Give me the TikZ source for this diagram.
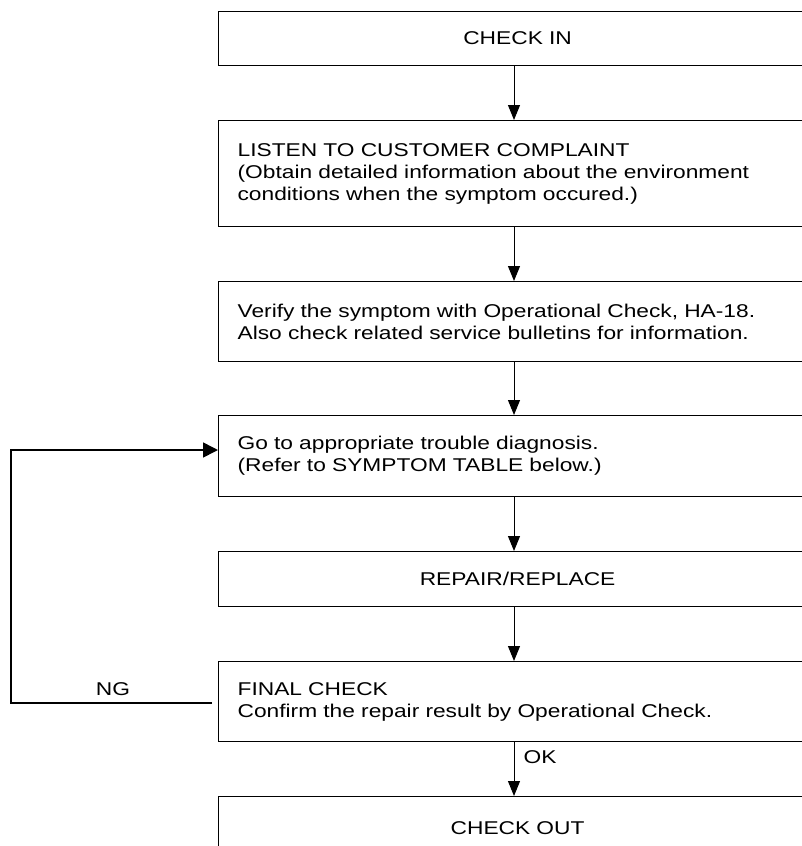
\documentclass[tikz,border=0pt]{standalone}
\usepackage{fontspec}
\setmainfont{Liberation Sans}[FakeStretch=1.23]
\usetikzlibrary{arrows.meta}

\begin{document}
\begin{tikzpicture}[x=1pt,y=-1pt,
  box/.style={draw,line width=1.2pt,rectangle,anchor=north west,inner xsep=19pt,
    text width=560pt,font=\fontsize{18.5}{22}\selectfont},
  lft/.style={box,align=left},
  ctr/.style={box,align=center},
  lbl/.style={font=\fontsize{18.5}{22}\selectfont},
  arr/.style={line width=1pt,-{Triangle[length=15pt,width=12pt]}}]
\useasboundingbox (0,0) rectangle (801,846);
\node[ctr,minimum height=54pt] (in) at (218,11) {CHECK IN};
\node[lft,minimum height=106pt] (listen) at (218,120) {LISTEN TO CUSTOMER COMPLAINT\\
(Obtain detailed information about the environment\\
conditions when the symptom occured.)};
\node[lft,minimum height=80pt] (verify) at (218,281) {Verify the symptom with Operational Check, HA-18.\\
Also check related service bulletins for information.};
\node[lft,minimum height=81pt] (diag) at (218,415) {Go to appropriate trouble diagnosis.\\
(Refer to SYMPTOM TABLE below.)};
\node[ctr,minimum height=55pt] (repair) at (218,551) {REPAIR/REPLACE};
\node[lft,minimum height=80pt] (final) at (218,661) {FINAL CHECK\\
Confirm the repair result by Operational Check.};
\node[ctr,minimum height=64pt] (out) at (218,796) {CHECK OUT};
% flow down the middle
\coordinate (c) at (514,0);
\foreach \a/\b in {in/listen,listen/verify,verify/diag,diag/repair,repair/final,final/out}{
	\draw[arr] (\a.south -| c) -- (\b.north -| c);
}
\node[lbl] (ok) at (540,757) {OK};
% NG loop back
\coordinate (ngs) at (212,703);
\coordinate (lp) at (11,450);
\draw[line width=1.6pt,-{Triangle[length=15pt,width=15pt]}] (ngs) -| (lp) -- (lp -| diag.west);
\node[lbl] (ng) at (113,689) {NG};
\end{tikzpicture}
\end{document}
